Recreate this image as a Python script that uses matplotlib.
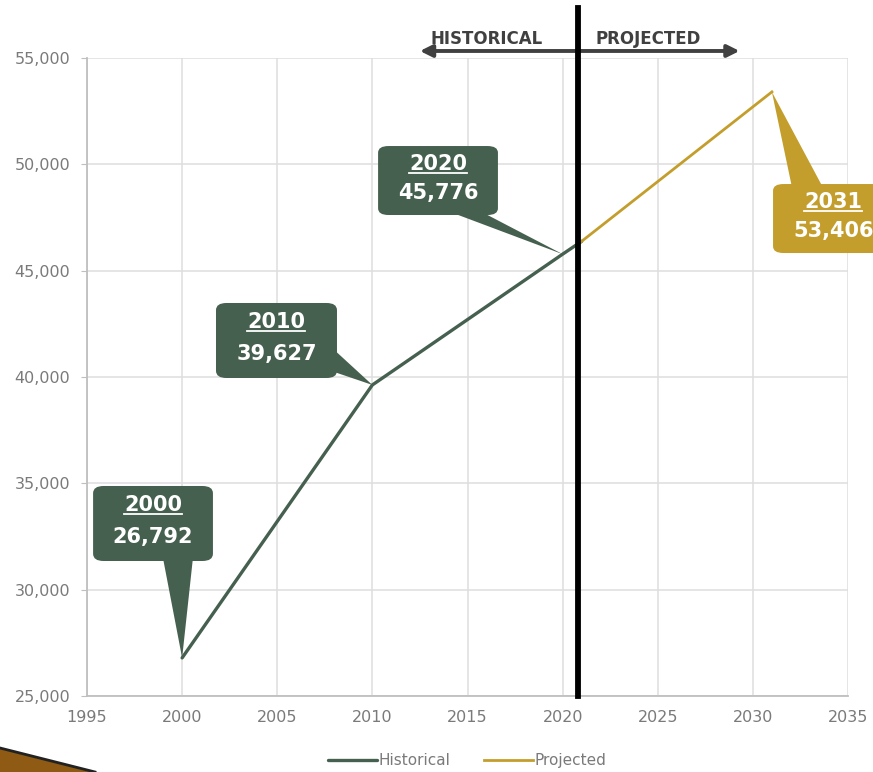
import matplotlib.pyplot as plt
from matplotlib.patches import FancyBboxPatch, Polygon
from matplotlib.lines import Line2D

# data
hist_years = [2000, 2010, 2011, 2020, 2021]
hist_values = [26792, 39627, 40240, 45776, 46380]
proj_years = [2021, 2031]
proj_values = [46380, 53406]

label_years = [2000, 2010, 2020, 2031]
label_values = [26792, 39627, 45776, 53406]

GREEN = "#46604F"
GOLD = "#C49E2C"
GRID = "#DEDEDE"
TEXT = "#7A7A7A"

fig = plt.figure(figsize=(8.73, 7.72), dpi=100)
ax = fig.add_axes([87 / 873, 76 / 772, 761 / 873, 638 / 772])

ax.plot(hist_years, hist_values, color=GREEN, lw=2.4, label="Historical", zorder=3,
        solid_capstyle="round")
ax.plot(proj_years, proj_values, color=GOLD, lw=2.0, label="Projected", zorder=3)

ax.set_xlim(1995, 2035)
ax.set_ylim(25000, 55000)
ax.set_xticks(range(1995, 2036, 5))
ax.set_yticks(range(25000, 55001, 5000))
ax.yaxis.set_major_formatter(plt.FuncFormatter(lambda v, p: f"{int(v):,}"))
ax.grid(True, color=GRID, lw=1.1, zorder=0)
ax.set_axisbelow(True)
for s in ["top", "right"]:
    ax.spines[s].set_visible(False)
for s in ["left", "bottom"]:
    ax.spines[s].set_color("#BFBFBF")
    ax.spines[s].set_linewidth(1.3)
ax.tick_params(axis="y", length=4, color="#BFBFBF", labelsize=11.5, labelcolor=TEXT, pad=8)
ax.tick_params(axis="x", length=0, labelsize=11.5, labelcolor=TEXT, pad=10)

# historical / projected divider
ax.axvline(2020.8, ymin=0, ymax=1.078, color="black", lw=4.2, clip_on=False, zorder=5)
ax.annotate("", xy=(2012.5, 55330), xytext=(2029.3, 55330),
            arrowprops=dict(arrowstyle="<|-|>", color="#404040", lw=2.8,
                            mutation_scale=18, shrinkA=0, shrinkB=0),
            annotation_clip=False, zorder=4)
ax.text(2016.0, 55450, "HISTORICAL", ha="center", va="bottom", fontsize=12,
        fontweight="bold", color="#404040", clip_on=False)
ax.text(2024.5, 55450, "PROJECTED", ha="center", va="bottom", fontsize=12,
        fontweight="bold", color="#404040", clip_on=False)

# callout boxes: (x0, x1, y0, y1) and wedge base points
boxes = [
    (1995.32, 2001.62, 31348, 34875),
    (2001.78, 2008.14, 39953, 43480),
    (2010.30, 2016.60, 47617, 50861),
    (2031.06, 2037.40, 45830, 49074),
]
wedges = [
    [(1998.99, 31500), (2000.57, 31500)],
    [(2008.0, 41269), (2008.0, 40234)],
    [(2013.97, 47800), (2015.66, 47800)],
    [(2032.06, 48900), (2033.69, 48900)],
]
colors = [GREEN, GREEN, GREEN, GOLD]

year_texts = []
for yr, val, box, wedge, c in zip(label_years, label_values, boxes, wedges, colors):
    x0, x1, y0, y1 = box
    ax.add_patch(FancyBboxPatch((x0, y0), x1 - x0, y1 - y0,
                                boxstyle="round,pad=0,rounding_size=0.55",
                                mutation_aspect=(y1 - y0) / (x1 - x0) * 1.1,
                                fc=c, ec="none", zorder=6, clip_on=False))
    ax.add_patch(Polygon(wedge + [(yr, val)], closed=True, fc=c, ec="none",
                         zorder=6, clip_on=False))
    cx = (x0 + x1) / 2
    t = ax.text(cx, y1 - 0.26 * (y1 - y0), str(yr), ha="center", va="center",
                fontsize=15, fontweight="bold", color="white", zorder=7, clip_on=False)
    year_texts.append(t)
    ax.text(cx, y1 - 0.68 * (y1 - y0), f"{val:,}", ha="center", va="center",
            fontsize=15, fontweight="bold", color="white", zorder=7, clip_on=False)

# underline the years
fig.canvas.draw()
r = fig.canvas.get_renderer()
inv = ax.transData.inverted()
for t in year_texts:
    bb = t.get_window_extent(r)
    (xa, ya), (xb, _) = inv.transform([(bb.x0, bb.y0 + 1), (bb.x1, bb.y0)])
    ax.add_line(Line2D([xa, xb], [ya, ya], color="white", lw=1.3, zorder=7, clip_on=False))

ax.legend(loc="upper center", bbox_to_anchor=(0.5, -0.068), ncol=2, frameon=False,
          fontsize=11, labelcolor=TEXT, handlelength=3.2, handletextpad=0.1,
          columnspacing=2.2)

# slide decoration bottom-left
fig.patches.append(Polygon([(0, 0), (0, 24 / 772), (95 / 873, 0)], closed=True,
                           transform=fig.transFigure, fc="#8E5A14", ec="none", zorder=0))
fig.lines.append(Line2D([0, 95 / 873], [24 / 772, 0], transform=fig.transFigure,
                        color="#222222", lw=2))

fig.savefig("out.png", dpi=100)
